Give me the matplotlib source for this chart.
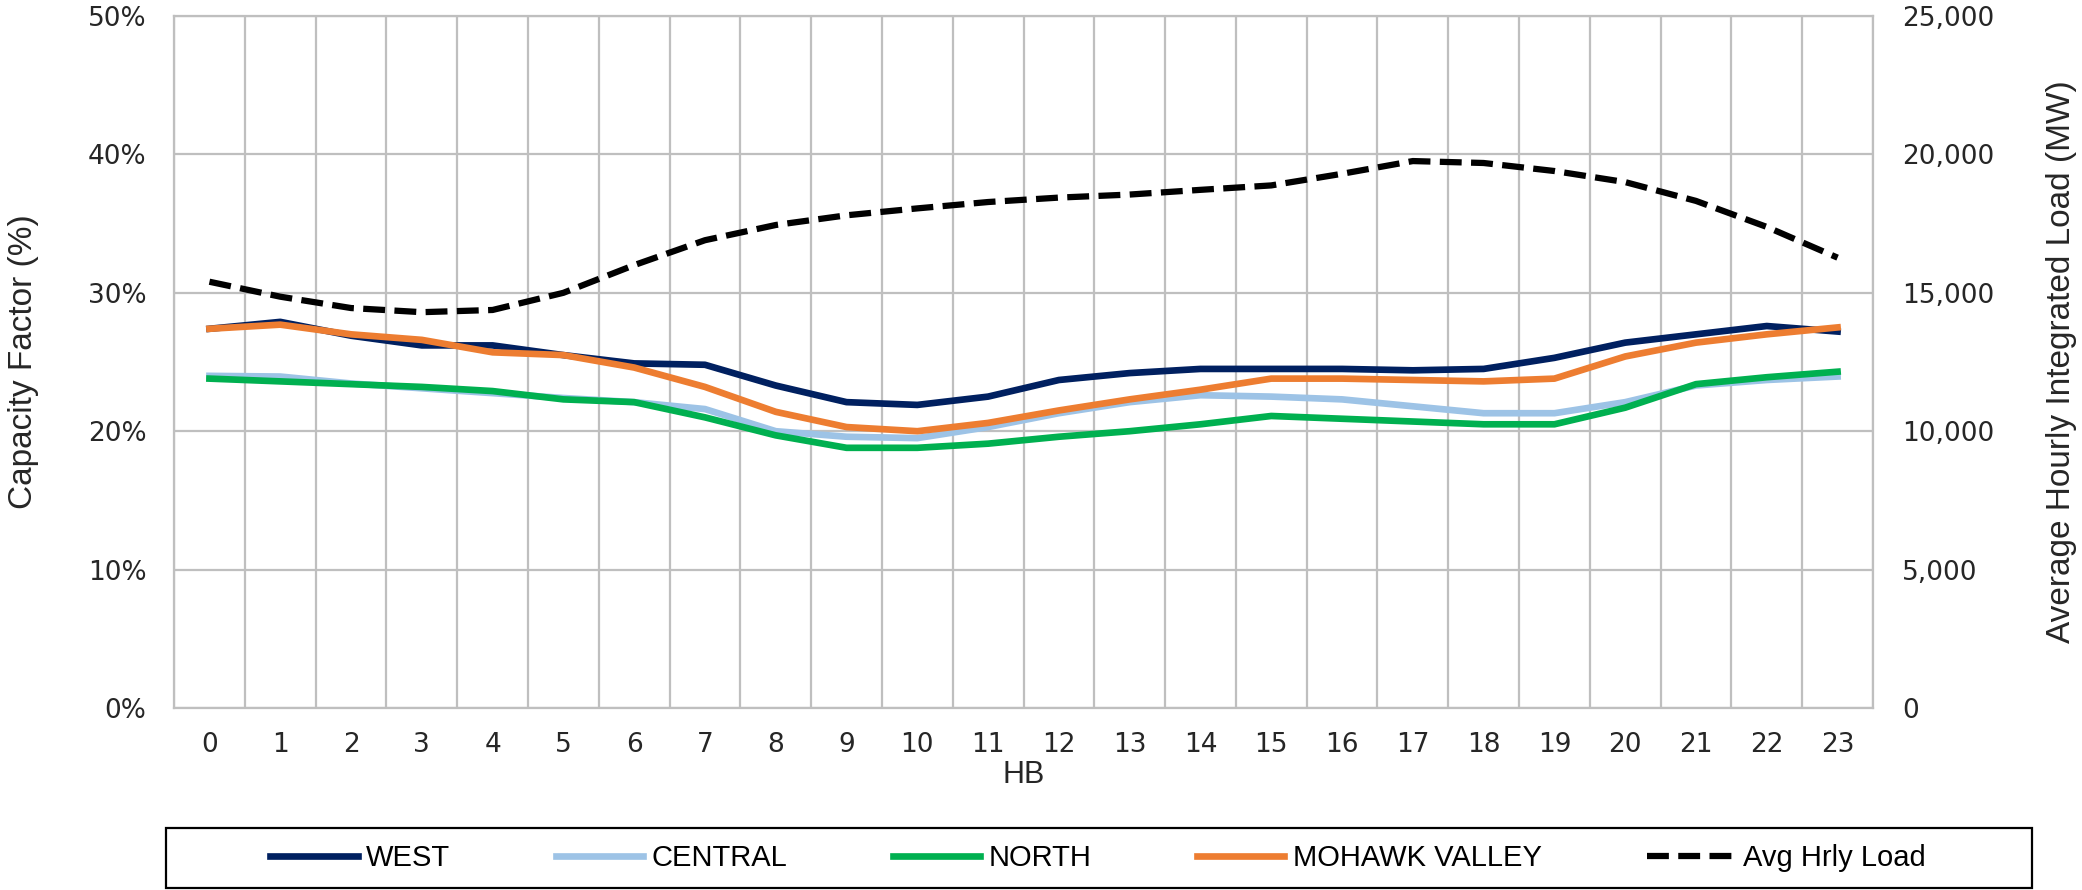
import numpy as np
import matplotlib
matplotlib.use('Agg')
from matplotlib import pyplot as plt
from matplotlib.ticker import FuncFormatter, MultipleLocator
from matplotlib.patches import Rectangle

plt.rcParams['font.family'] = ['Liberation Sans', 'DejaVu Sans']

# hour beginning
hours = list(range(24))

# capacity factor (%) by zone
west = [27.4, 27.9, 26.9, 26.2, 26.2, 25.5, 24.9, 24.8, 23.3, 22.1, 21.9, 22.5,
        23.7, 24.2, 24.5, 24.5, 24.5, 24.4, 24.5, 25.3, 26.4, 27.0, 27.6, 27.2]
central = [24.0, 23.95, 23.45, 23.1, 22.75, 22.4, 22.1, 21.6, 20.0, 19.6, 19.5, 20.3,
           21.3, 22.1, 22.6, 22.5, 22.3, 21.8, 21.3, 21.3, 22.1, 23.3, 23.7, 23.95]
north = [23.8, 23.6, 23.4, 23.2, 22.9, 22.3, 22.1, 21.0, 19.7, 18.8, 18.8, 19.1,
         19.6, 20.0, 20.5, 21.1, 20.9, 20.7, 20.5, 20.5, 21.7, 23.4, 23.9, 24.3]
mohawk = [27.4, 27.7, 27.0, 26.6, 25.7, 25.5, 24.6, 23.2, 21.4, 20.3, 20.0, 20.6,
          21.5, 22.3, 23.0, 23.8, 23.8, 23.7, 23.6, 23.8, 25.4, 26.4, 27.0, 27.5]

# average hourly integrated load (MW)
load = [15400, 14860, 14450, 14300, 14380, 15000, 16000, 16900, 17450, 17800, 18050, 18280,
        18440, 18550, 18720, 18880, 19300, 19760, 19690, 19400, 19000, 18320, 17380, 16270]

grid_c = '#BFBFBF'
lw = 4.8
dash = (3.5, 1.5)
tick_font = 'DejaVu Sans'

fig = plt.figure(figsize=(20.82, 8.9), dpi=100)
ax = fig.add_axes([0.0836, 0.2045, 0.8160, 0.7775])

l1, = ax.plot(hours, west, color='#002060', lw=lw, label='WEST')
l2, = ax.plot(hours, central, color='#9DC3E6', lw=lw, label='CENTRAL')
l3, = ax.plot(hours, north, color='#00B050', lw=lw, label='NORTH')
l4, = ax.plot(hours, mohawk, color='#ED7D31', lw=lw, label='MOHAWK VALLEY')

ax.set_xlim(-0.5, 23.5)
ax.set_ylim(0, 50)
ax.set_xticks(hours)
ax.set_xticks(np.arange(-0.5, 24, 1), minor=True)
ax.yaxis.set_major_locator(MultipleLocator(10))
ax.yaxis.set_major_formatter(FuncFormatter(lambda v, p: '%d%%' % v))
ax.grid(which='minor', axis='x', color=grid_c, lw=1.6)
ax.grid(which='major', axis='y', color=grid_c, lw=1.6)
ax.set_axisbelow(True)
for s in ax.spines.values():
    s.set_color(grid_c)
    s.set_linewidth(1.6)
ax.tick_params(which='both', length=0)
ax.tick_params(axis='x', labelsize=19, pad=17, colors='#262626')
ax.tick_params(axis='y', labelsize=19, pad=20, colors='#262626')
for t in ax.get_xticklabels() + ax.get_yticklabels():
    t.set_fontfamily(tick_font)

ax.set_xlabel('HB', fontsize=22, va='center', color='#262626')
ax.xaxis.set_label_coords(0.5, -0.097)
ax.set_ylabel('Capacity Factor (%)', fontsize=24, va='center', color='#262626')
ax.yaxis.set_label_coords(-0.0889, 0.5)

ax2 = ax.twinx()
l5, = ax2.plot(hours, load, color='black', lw=4.5, dashes=dash, label='Avg Hrly Load')
ax2.set_ylim(0, 25000)
ax2.yaxis.set_major_locator(MultipleLocator(5000))
ax2.yaxis.set_major_formatter(FuncFormatter(lambda v, p: '{:,.0f}'.format(v)))
for s in ax2.spines.values():
    s.set_visible(False)
ax2.tick_params(length=0, labelsize=19, pad=21, colors='#262626')
for t in ax2.get_yticklabels():
    t.set_fontfamily(tick_font)
ax2.set_ylabel('Average Hourly Integrated Load (MW)', fontsize=24, rotation=90,
               va='center', color='#262626')
ax2.yaxis.set_label_coords(1.111, 0.5)

# legend below the chart, in a black box
handles = [l1, l2, l3, l4, l5]
fig.legend(handles, [h.get_label() for h in handles], loc='center',
           bbox_to_anchor=(1098 / 2082, 1 - 858 / 890), ncol=5, frameon=False,
           fontsize=21, handlelength=3.0, handletextpad=0.3, columnspacing=3.6)
fig.patches.append(Rectangle((166 / 2082, 2 / 890), (2032 - 166) / 2082, 60 / 890,
                             transform=fig.transFigure, fill=False,
                             edgecolor='black', lw=1.6))

plt.savefig('out.png', dpi=100)
